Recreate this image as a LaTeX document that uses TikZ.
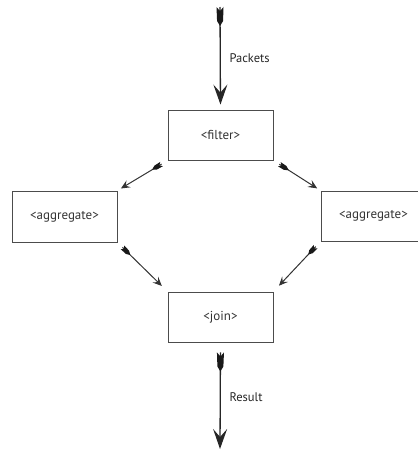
\documentclass[tikz,border=0pt]{standalone}
\usepackage{fontspec}
\setmainfont{PT Sans}
\usetikzlibrary{arrows.meta,decorations.markings}
\begin{document}
\begin{tikzpicture}[x=1pt,y=-1pt,
  box/.style={draw=black!70,line width=0.9pt,minimum width=105pt,minimum height=50pt,inner sep=0pt,font=\fontsize{13}{15}\selectfont,text=black!80},
  bigarrow/.style={draw=black!85,line width=1.3pt,
    arrows={-Stealth[length=20pt,width=14pt,inset=8pt]},
    postaction={decorate,decoration={markings,mark=at position #1 with {
      \fill[black!90] (0pt,3.5pt) -- (14pt,3pt) -- (19pt,0pt) -- (14pt,-3pt) -- (0pt,-3.5pt) -- (4pt,0pt) -- cycle;}}}},
  bigarrow/.default=0pt,
  smallarrow/.style={draw=black!80,line width=1pt,
    arrows={-Stealth[length=9pt,width=8pt,inset=3.5pt]},
    postaction={decorate,decoration={markings,mark=at position #1 with {
      \fill[black!90] (0pt,2.5pt) -- (7pt,2.3pt) -- (11pt,0pt) -- (7pt,-2.3pt) -- (0pt,-2.5pt) -- (2.5pt,0pt) -- cycle;}}}},
  smallarrow/.default=7pt,
  lbl/.style={font=\fontsize{12.5}{14}\selectfont,text=black!85,anchor=west}]
\useasboundingbox (0,0) rectangle (418,453);
\clip (0,0) rectangle (418,453);
\node[box] (filter) at (220.5,135) {<filter>};
\node[box] (join) at (220.5,317) {<join>};
\node[box,minimum height=51pt] (aggl) at (64.5,216.5) {<aggregate>};
\node[box] (aggr) at (373.5,216) {<aggregate>};
\coordinate (top) at (220,7);
\coordinate (bottom) at (220,450);
\draw[bigarrow,shorten >=5pt] (top) -- (filter.north);
\draw[bigarrow=10pt,shorten <=10pt,shorten >=1pt] (join.south) -- (bottom);
\draw[smallarrow,shorten <=7pt,shorten >=4pt] (filter.south west) -- (aggl.north east);
\draw[smallarrow,shorten <=7pt,shorten >=4pt] (filter.south east) -- (aggr.north west);
\draw[smallarrow,shorten <=7pt,shorten >=8pt] (aggl.south east) -- (join.north west);
\draw[smallarrow,shorten <=7pt,shorten >=8pt] (aggr.south west) -- (join.north east);
\node[lbl] (packets) at (226,58) {Packets};
\node[lbl] (result) at (226,397) {Result};
\end{tikzpicture}
\end{document}
